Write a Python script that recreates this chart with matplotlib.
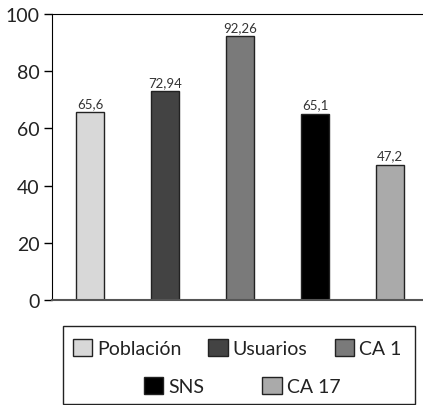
import matplotlib.pyplot as plt
from matplotlib.patches import Patch, Rectangle

categorias = ["Población", "Usuarios", "CA 1", "SNS", "CA 17"]
valores = [65.6, 72.94, 92.26, 65.1, 47.2]
etiquetas = ["65,6", "72,94", "92,26", "65,1", "47,2"]
colores = ["#d8d8d8", "#434343", "#7a7a7a", "#000000", "#aaaaaa"]
yticks = [0, 20, 40, 60, 80, 100]

plt.rcParams['font.family'] = ['Lato', 'DejaVu Sans']

fig = plt.figure(figsize=(4.23, 4.06), dpi=100)
W, H = 423, 406
ax = fig.add_axes([52 / W, 1 - 301 / H, 371 / W, 286 / H])

x = list(range(len(categorias)))
ax.bar(x, valores, width=0.37, color=colores, edgecolor="#222222", linewidth=1)
for xi, v, t in zip(x, valores, etiquetas):
    ax.text(xi, v + 1.2, t, ha="center", va="bottom", fontsize=9.5, color="#333333")

ax.set_xlim(-0.507, 4.44)
ax.set_ylim(0, 100)
ax.set_yticks(yticks)
ax.set_yticklabels([str(t) for t in yticks], fontsize=14, color="#222222")
ax.set_xticks([])
ax.tick_params(axis="y", length=6, width=1, pad=3)
ax.spines["right"].set_visible(False)
ax.spines["bottom"].set_color("#555555")
ax.spines["bottom"].set_linewidth(1.5)

# recuadro de la leyenda
fig.patches.append(Rectangle((63 / W, 1 - 405 / H), 352 / W, 78 / H,
                             transform=fig.transFigure, fill=False,
                             edgecolor="#222222", linewidth=1))

handles = [Patch(facecolor=c, edgecolor="#222222", linewidth=1) for c in colores]
kw = dict(frameon=False, fontsize=14, handlelength=1.0, handleheight=1.0,
          handletextpad=0.25, borderpad=0, labelcolor="#222222")
fig.legend(handles[:3], categorias[:3], ncol=3, loc="center",
           bbox_to_anchor=(237 / W, 1 - 349 / H), columnspacing=1.4, **kw)
fig.legend(handles[3:], categorias[3:], ncol=2, loc="center",
           bbox_to_anchor=(242 / W, 1 - 387 / H), columnspacing=3.0, **kw)

fig.savefig("out.png", dpi=100)
